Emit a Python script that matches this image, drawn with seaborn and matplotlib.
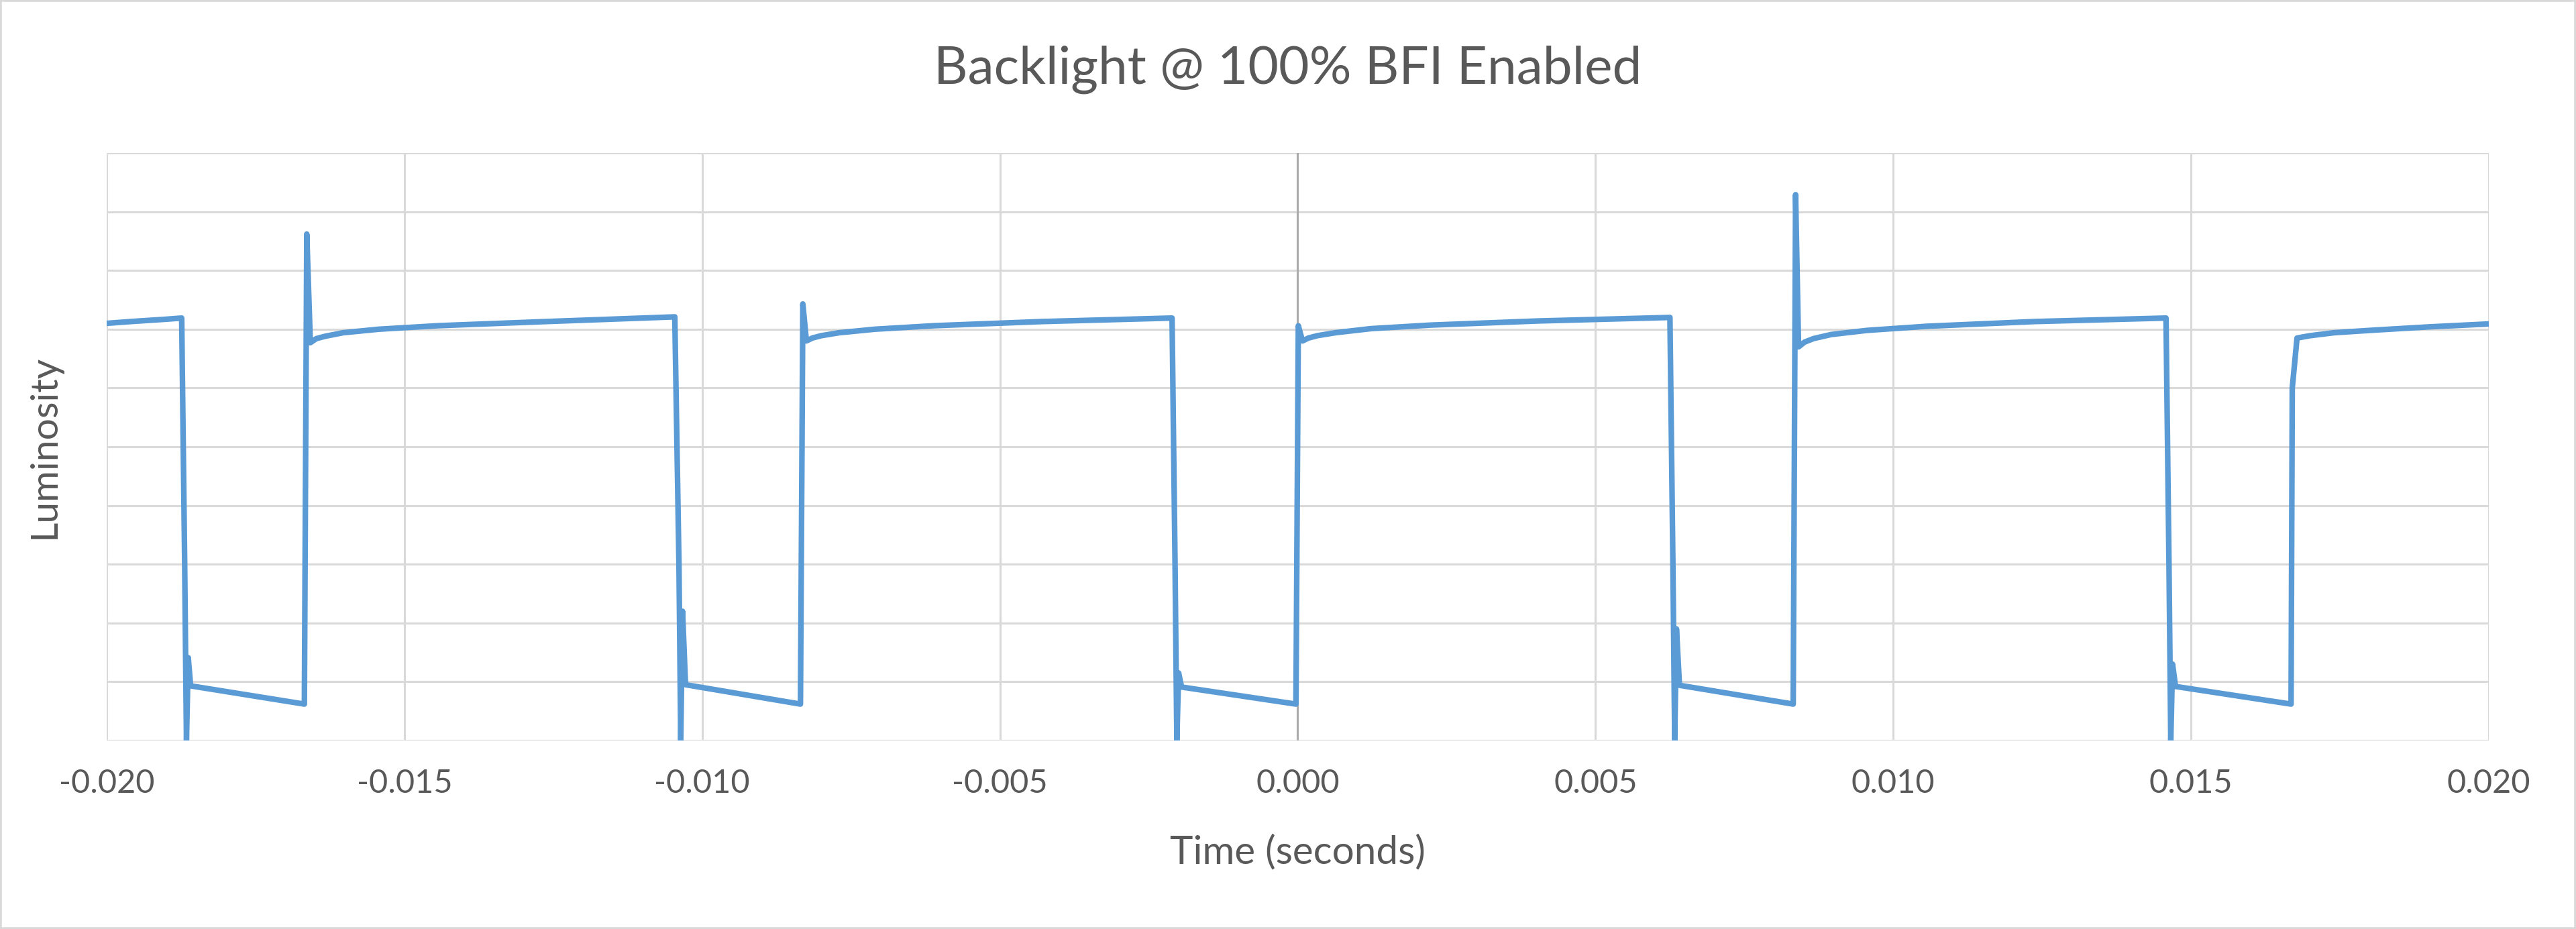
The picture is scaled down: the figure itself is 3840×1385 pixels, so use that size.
import matplotlib
matplotlib.use("Agg")
import matplotlib.pyplot as plt
from matplotlib.patches import Rectangle
import seaborn as sns
import pandas as pd

# ---- data ----
time_s = [
    -0.02000, -0.01960, -0.01900, -0.01874,
    -0.01869, -0.01866, -0.01863, -0.01859, -0.01668,
    -0.01664, -0.01658, -0.01648, -0.01633, -0.01603, -0.01543, -0.01443, -0.01263, -0.01046,
    -0.01039, -0.01036, -0.01033, -0.01028, -0.00835,
    -0.00831, -0.00825, -0.00815, -0.00800, -0.00770, -0.00710, -0.00610, -0.00430, -0.00211,
    -0.00206, -0.00203, -0.00200, -0.00195, -0.00003,
    0.00001, 0.00008, 0.00018, 0.00033, 0.00063, 0.00123, 0.00223, 0.00403, 0.00625,
    0.00630, 0.00633, 0.00636, 0.00641, 0.00832,
    0.00836, 0.00841, 0.00851, 0.00866, 0.00896, 0.00956, 0.01056, 0.01236, 0.01458,
    0.01463, 0.01466, 0.01469, 0.01474, 0.01668,
    0.01670, 0.01678, 0.01700, 0.01740, 0.01800, 0.01900, 0.02000,
]
luminosity = [
    7.10, 7.13, 7.17, 7.19,
    3.00, 0.00, 1.41, 0.93, 0.62,
    8.62, 6.77, 6.84, 6.88, 6.94, 7.00, 7.06, 7.13, 7.21,
    3.00, 0.00, 2.20, 0.95, 0.62,
    7.43, 6.80, 6.85, 6.89, 6.94, 7.00, 7.06, 7.13, 7.19,
    3.00, 0.00, 1.15, 0.91, 0.62,
    7.06, 6.80, 6.85, 6.89, 6.94, 7.01, 7.07, 7.14, 7.20,
    3.00, 0.00, 1.90, 0.94, 0.62,
    9.29, 6.70, 6.78, 6.84, 6.91, 6.98, 7.05, 7.13, 7.19,
    3.00, 0.00, 1.30, 0.92, 0.62,
    6.00, 6.85, 6.89, 6.94, 6.98, 7.04, 7.09,
]
x_ticks = [-0.020, -0.015, -0.010, -0.005, 0.000, 0.005, 0.010, 0.015, 0.020]
x_tick_labels = ["-0.020", "-0.015", "-0.010", "-0.005", "0.000",
                 "0.005", "0.010", "0.015", "0.020"]
y_grid = [0, 1, 2, 3, 4, 5, 6, 7, 8, 9, 10]

title = "Backlight @ 100% BFI Enabled"
x_title = "Time (seconds)"
y_title = "Luminosity"

# ---- style ----
sns.set_theme(style="white")
plt.rcParams['font.family'] = ['Lato', 'DejaVu Sans']
text_color = "#595959"
grid_color = "#D9D9D9"
line_color = "#5B9BD5"

W, H = 3840, 1385
fig = plt.figure(figsize=(W / 100, H / 100), dpi=100)
L, R, T, B = 159, 3710, 228, 1104
ax = fig.add_axes([L / W, 1 - B / H, (R - L) / W, (B - T) / H])

df = pd.DataFrame({"t": time_s, "lum": luminosity})
sns.lineplot(data=df, x="t", y="lum", sort=False, estimator=None,
             color=line_color, linewidth=6, ax=ax, zorder=3,
             solid_capstyle="round", solid_joinstyle="round")

ax.set_xlim(-0.02, 0.02)
ax.set_ylim(0, 10)
ax.set_xticks(x_ticks)
ax.set_xticklabels(x_tick_labels)
ax.set_yticks(y_grid)
ax.set_yticklabels([])
ax.grid(True, color=grid_color, linewidth=2.2, zorder=1)
ax.set_axisbelow(True)
ax.axvline(0, color="#ABABAB", linewidth=2.2, zorder=2)
for s in ax.spines.values():
    s.set_visible(False)
ax.tick_params(axis='x', length=0, pad=30, labelsize=35, labelcolor=text_color)
ax.tick_params(axis='y', length=0)

ax.set_xlabel(x_title, fontsize=42, color=text_color)
ax.xaxis.set_label_coords(0.5, (B - 1271) / (B - T))
ax.xaxis.label.set_va('center')
ax.set_ylabel(y_title, fontsize=41, color=text_color)
ax.yaxis.set_label_coords((66 - L) / (R - L), 0.5)
ax.yaxis.label.set_va('center')

fig.text(0.5, 1 - 125 / H, title, ha='center', va='baseline',
         fontsize=56.5, color=text_color)

fig.patches.append(Rectangle((0, 0), 1, 1, transform=fig.transFigure,
                             fill=False, edgecolor=grid_color, linewidth=4))

fig.savefig("out.png", dpi=100, facecolor="white")
